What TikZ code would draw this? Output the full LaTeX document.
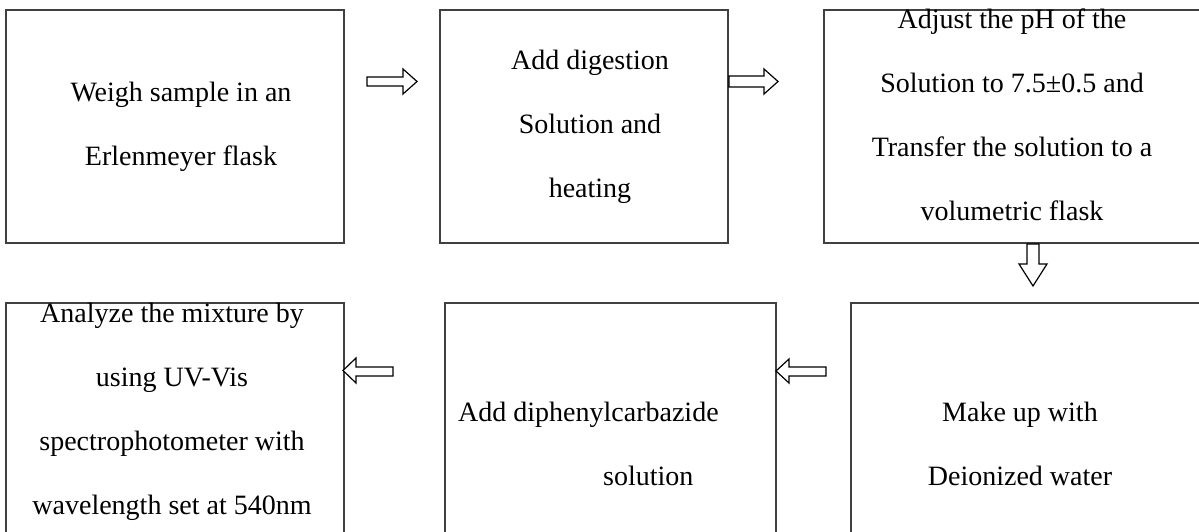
\documentclass[tikz,border=0pt]{standalone}
\usepackage{fontspec}
\setmainfont{Liberation Serif}
\begin{document}
\begin{tikzpicture}[x=1pt,y=-1pt,
  box/.style={draw=black!75,line width=1.5pt},
  txt/.style={align=center,inner sep=0pt,font=\fontsize{28}{64}\selectfont},
  blockarrow/.style={draw=black,line width=1.2pt,fill=white,line join=miter}]
\useasboundingbox (0,0) rectangle (1199,532);
\clip (0,0) rectangle (1199,532);
% boxes
\draw[box] (6,10) rectangle (344,243) coordinate (b1);
\draw[box] (440,10) rectangle (728,243);
\draw[box] (824,10) rectangle (1210,243);
\draw[box] (6,303) rectangle (344,545);
\draw[box] (445,303) rectangle (776,545);
\draw[box] (851,303) rectangle (1210,545);
% texts
\node[txt] (t1) at (181,126.5) {Weigh sample in an\\Erlenmeyer flask};
\node[txt] (t2) at (590,126.5) {Add digestion\\Solution and\\heating};
\node[txt] (t3) at (1012,115) {Adjust the pH of the\\Solution to 7.5±0.5 and\\Transfer the solution to a\\volumetric flask};
\node[txt] (t4) at (172,412) {Analyze the mixture by\\using UV-Vis\\spectrophotometer with\\wavelength set at 540nm};
\node[txt,align=left,anchor=west] (t5) at (458,444) {Add diphenylcarbazide\\\hspace*{145pt}solution};
\node[txt] (t6) at (1020,444) {Make up with\\Deionized water};
% block arrows
\draw[blockarrow] (367,77) -- (403,77) -- (403,69) -- (417,81.5) -- (403,94) -- (403,86) -- (367,86) -- cycle;
\draw[blockarrow] (729,76) -- (764,76) -- (764,69) -- (778,81.5) -- (764,94) -- (764,87) -- (729,87) -- cycle;
\draw[blockarrow] (1027,244) -- (1027,264) -- (1019,264) -- (1033,286) -- (1047,264) -- (1039,264) -- (1039,244) -- cycle;
\draw[blockarrow] (393,367) -- (356,367) -- (356,358) -- (343,370.5) -- (356,383) -- (356,376) -- (393,376) -- cycle;
\draw[blockarrow] (826,367) -- (789,367) -- (789,359) -- (776,371) -- (789,383) -- (789,376) -- (826,376) -- cycle;
\end{tikzpicture}
\end{document}
